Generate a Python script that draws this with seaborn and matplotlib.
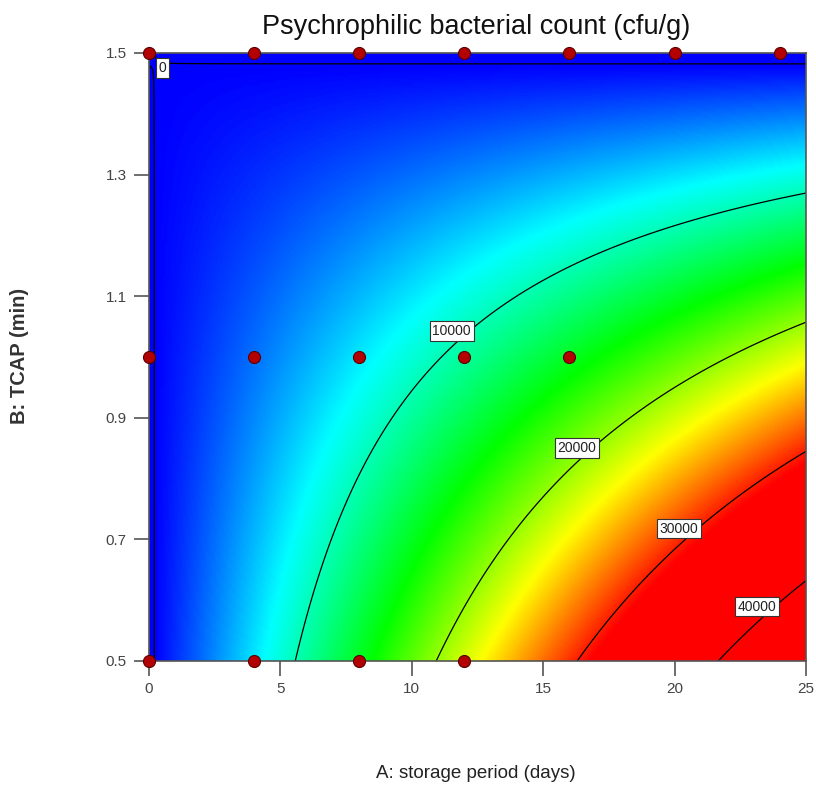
import numpy as np
import seaborn as sns
import matplotlib.pyplot as plt

# fitted response surface: count = b0 + bA*A + bB*B + bAB*A*B
b0 = -562.0
bA = 2813.0
bB = 380.0
bAB = -1898.0

# design points (A: storage period, B: TCAP)
pts_A = [0, 4, 8, 12, 16, 20, 24, 0, 4, 8, 12, 16, 0, 4, 8, 12]
pts_B = [1.5, 1.5, 1.5, 1.5, 1.5, 1.5, 1.5, 1.0, 1.0, 1.0, 1.0, 1.0, 0.5, 0.5, 0.5, 0.5]

levels = [0, 10000, 20000, 30000, 40000]
x_ticks = [0, 5, 10, 15, 20, 25]
y_ticks = [0.5, 0.7, 0.9, 1.1, 1.3, 1.5]
y_ticklabels = ['0.5', '0.7', '0.9', '1.1', '1.3', '1.5']

sns.set_style('white')
plt.rcParams['font.family'] = ['Liberation Sans Narrow', 'Liberation Sans', 'DejaVu Sans']

fig = plt.figure(figsize=(8.16, 7.92), dpi=100)
ax = fig.add_axes([149/816, 131/792, 657/816, 608/792])

A = np.linspace(0, 25, 400)
B = np.linspace(0.5, 1.5, 400)
AA, BB = np.meshgrid(A, B)
Z = b0 + bA*AA + bB*BB + bAB*AA*BB

cmap = sns.blend_palette(['#0000ff', '#00ffff', '#00ff00', '#ffff00', '#ff0000'], as_cmap=True)
ax.imshow(Z, extent=[0, 25, 0.5, 1.5], origin='lower', aspect='auto',
          cmap=cmap, vmin=0, vmax=31000, interpolation='bilinear')

cs = ax.contour(AA, BB, Z, levels=levels, colors='black', linewidths=0.9)
lbls = ax.clabel(cs, fmt='%d', fontsize=10, inline=False,
                 manual=[(0.6, 1.472), (11.5, 1.044), (16.3, 0.852), (20.2, 0.719), (23.1, 0.59)])
# labels sit a little up-left of the line, like the original
shifts = [(-0.1, -0.008), (-0.3, 0.014), (-0.3, 0.012), (-0.35, 0.014), (-0.3, 0.015)]
for t, (dx, dy) in zip(lbls, shifts):
    x, y = t.get_position()
    t.set_position((x + dx, y + dy))
    t.set_rotation(0)
    t.set_color('#222222')
    t.set_zorder(5)
    t.set_bbox(dict(boxstyle='square,pad=0.2', fc='white', ec='#333333', lw=0.8))

sns.scatterplot(x=pts_A, y=pts_B, ax=ax, color='#b30000', edgecolor='#5a0000',
                linewidth=0.8, s=75, clip_on=False, zorder=6, legend=False)

ax.set_xlim(0, 25)
ax.set_ylim(0.5, 1.5)
ax.set_xticks(x_ticks)
ax.set_yticks(y_ticks)
ax.set_yticklabels(y_ticklabels)
ax.tick_params(bottom=True, left=True, direction='out', length=11, width=1.2,
               color='#555555', labelcolor='#444444', labelsize=11)
ax.tick_params(axis='x', pad=4)
ax.tick_params(axis='y', pad=5)
for s in ax.spines.values():
    s.set_color('#555555')
    s.set_linewidth(1.2)

fig.text(476/816, 1 - 27/792, 'Psychrophilic bacterial count (cfu/g)',
         ha='center', va='center', fontsize=19.5, color='#111111')
fig.text(476/816, 1 - 774/792, 'A: storage period (days)',
         ha='center', va='center', fontsize=13.5, color='#222222')
fig.text(20/816, 1 - 356/792, 'B: TCAP (min)', rotation=90,
         ha='center', va='center', fontsize=14.5, fontweight='bold',
         family=['Liberation Sans', 'DejaVu Sans'], color='#333333')

fig.savefig('out.png', dpi=100)
